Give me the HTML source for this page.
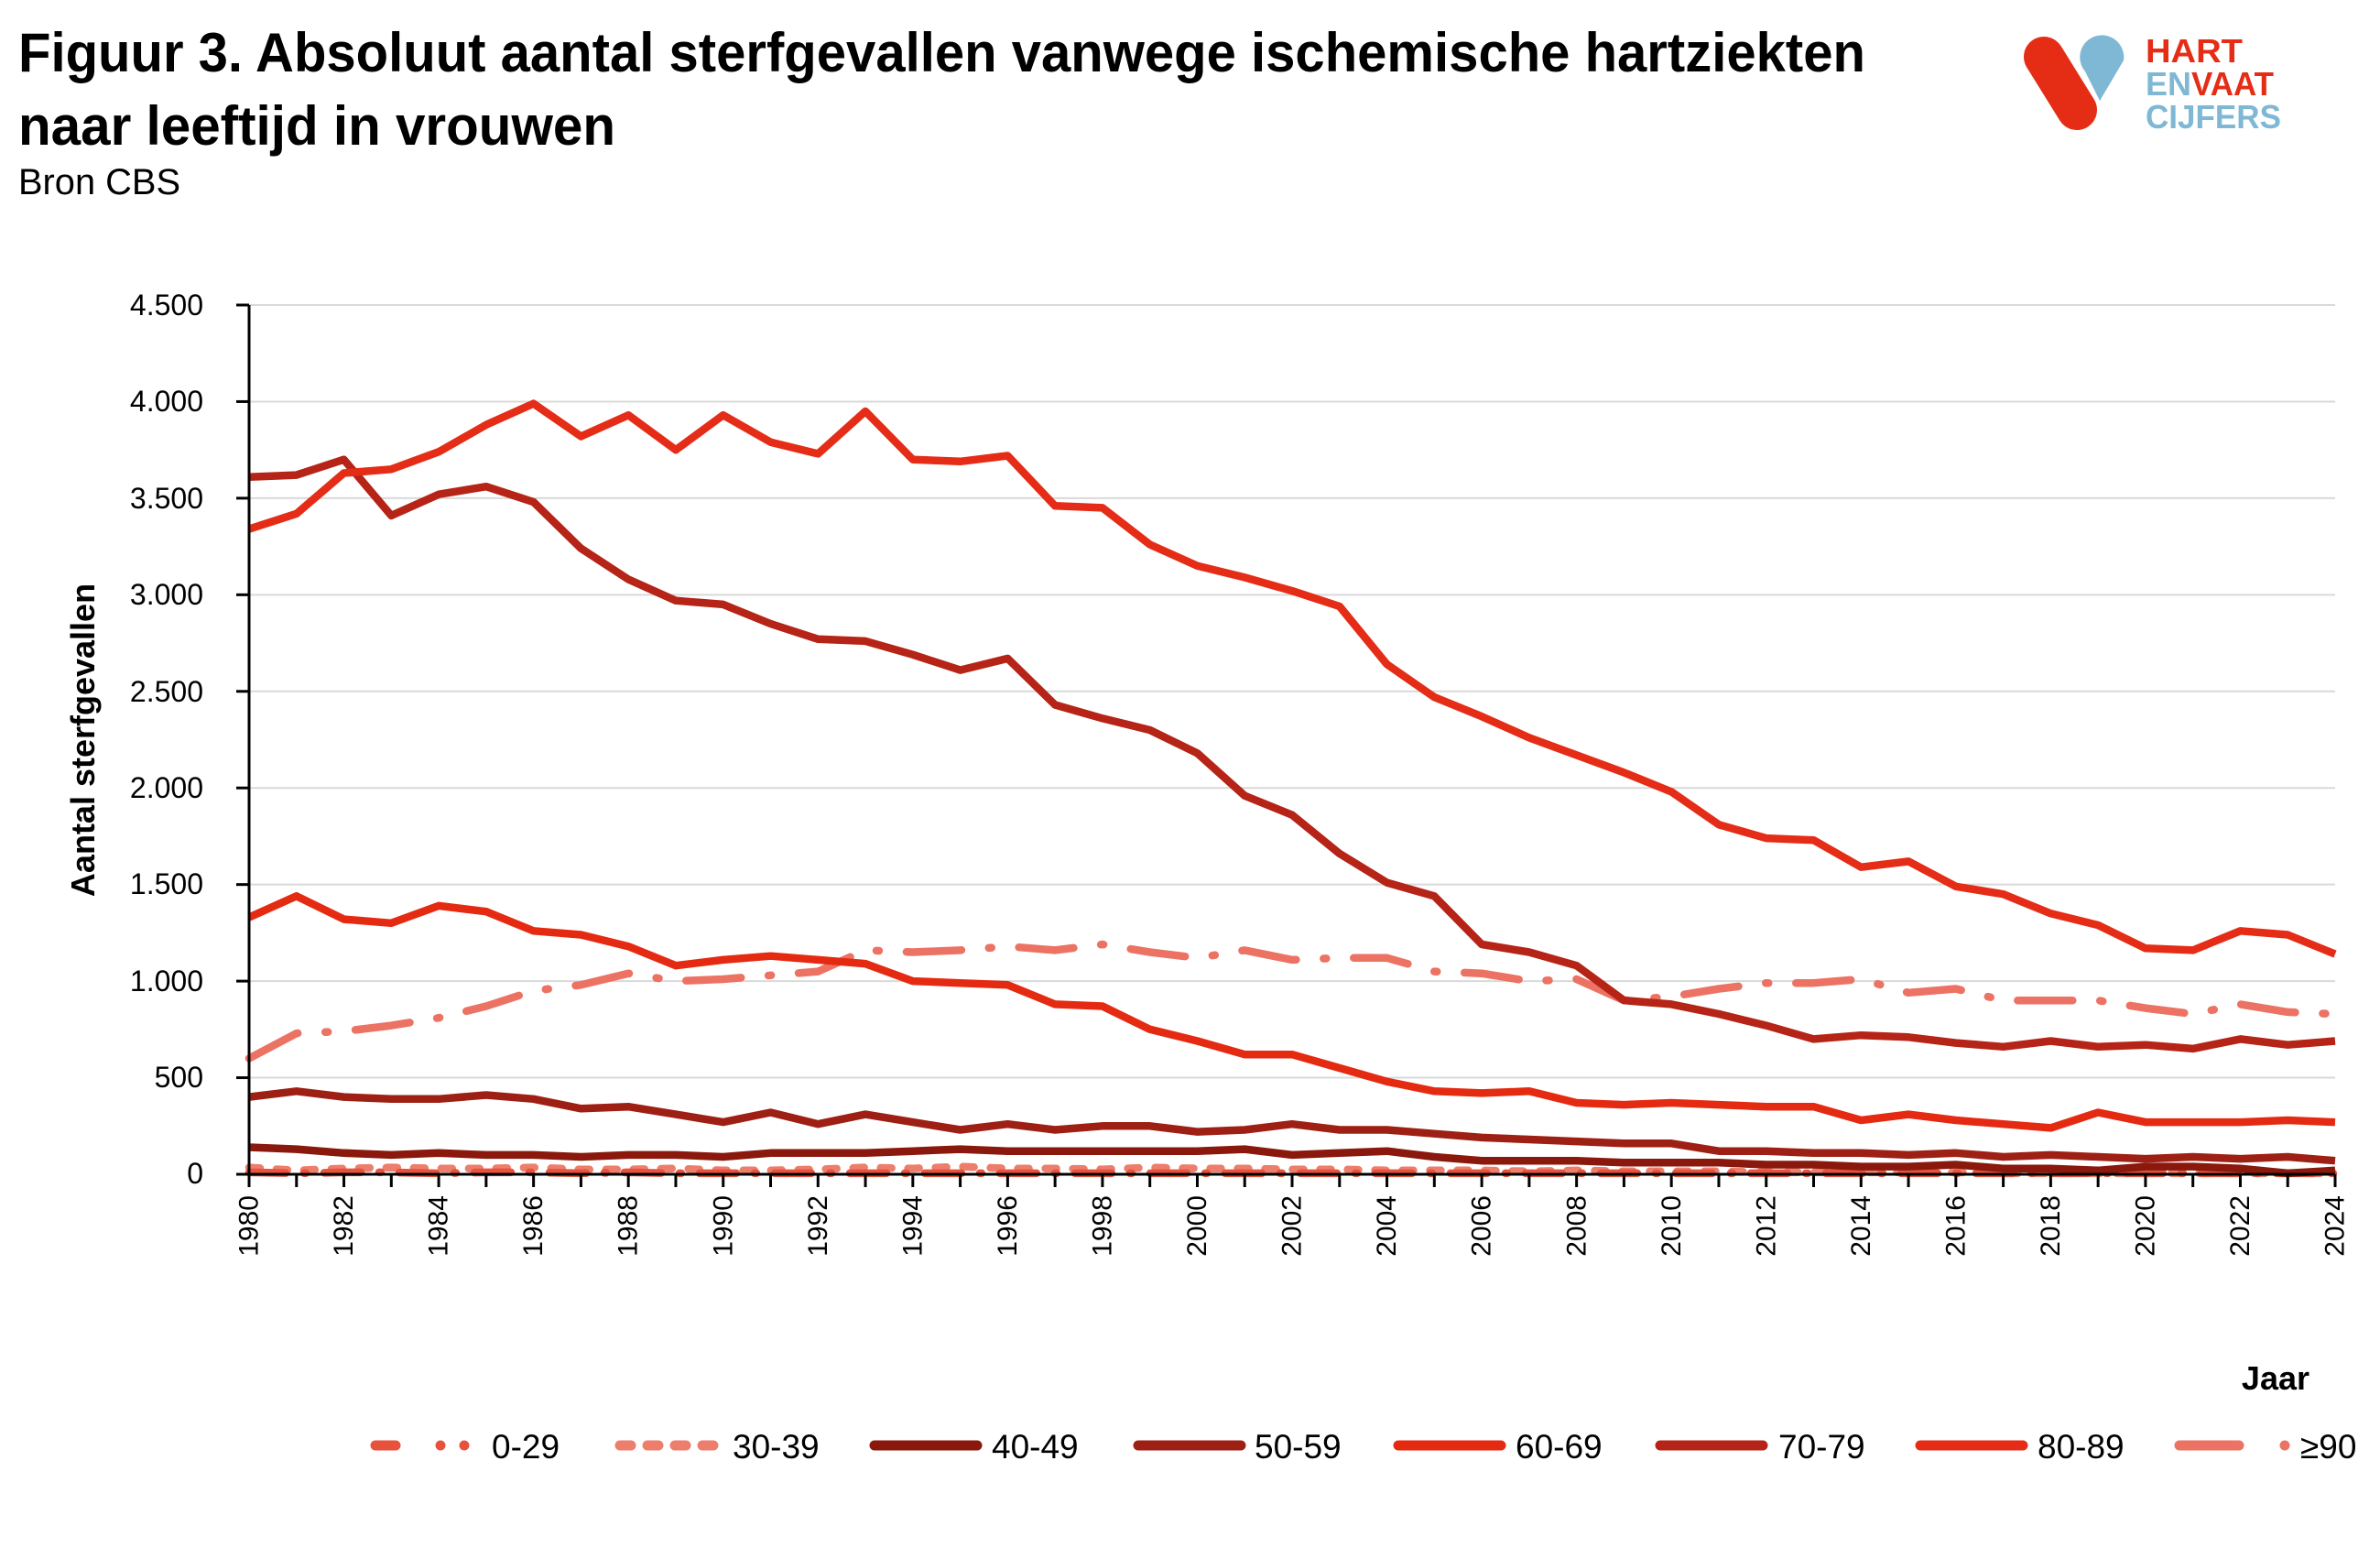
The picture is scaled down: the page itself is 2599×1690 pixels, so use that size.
<!DOCTYPE html>
<html><head><meta charset="utf-8"><style>
html,body{margin:0;padding:0;background:#fff;}
svg{display:block;}
text{font-family:"Liberation Sans",sans-serif;}
</style></head><body>
<svg id="s" width="2599" height="1690" viewBox="0 0 2599 1690" xmlns="http://www.w3.org/2000/svg">
<text x="20" y="78" font-size="60" font-weight="bold" textLength="2017" lengthAdjust="spacingAndGlyphs">Figuur 3. Absoluut aantal sterfgevallen vanwege ischemische hartziekten</text>
<text x="20" y="158" font-size="60" font-weight="bold" textLength="652" lengthAdjust="spacingAndGlyphs">naar leeftijd in vrouwen</text>
<text x="20" y="212" font-size="40" textLength="177" lengthAdjust="spacingAndGlyphs">Bron CBS</text>
<!-- logo -->
<line x1="2232" y1="62" x2="2268" y2="120" stroke="#e52d16" stroke-width="44" stroke-linecap="round"/>
<path d="M2293 110 L2277 78 A24 24 0 1 1 2319 66 Z" fill="#7fb8d4"/>
<text x="2343" y="68" font-size="36" font-weight="bold" fill="#e52d16" textLength="106" lengthAdjust="spacingAndGlyphs">HART</text>
<text x="2343" y="104" font-size="36" font-weight="bold" fill="#7fb8d4" textLength="50" lengthAdjust="spacingAndGlyphs">EN</text>
<text x="2393" y="104" font-size="36" font-weight="bold" fill="#e52d16" textLength="90" lengthAdjust="spacingAndGlyphs">VAAT</text>
<text x="2343" y="140" font-size="36" font-weight="bold" fill="#7fb8d4" textLength="148" lengthAdjust="spacingAndGlyphs">CIJFERS</text>
<g id="grid" stroke="#d9d9d9" stroke-width="2"></g>
<g font-size="32" text-anchor="end">
<text x="222" y="344">4.500</text><text x="222" y="449">4.000</text><text x="222" y="555">3.500</text><text x="222" y="660">3.000</text><text x="222" y="766">2.500</text><text x="222" y="871">2.000</text><text x="222" y="976">1.500</text><text x="222" y="1082">1.000</text><text x="222" y="1187">500</text><text x="222" y="1292">0</text>
</g>
<text transform="translate(103,808) rotate(-90)" font-size="36" font-weight="bold" text-anchor="middle">Aantal sterfgevallen</text>
<g font-size="30" text-anchor="end" dominant-baseline="central">
<text transform="translate(272,1305) rotate(-90)">1980</text>
<text transform="translate(375.5,1305) rotate(-90)">1982</text>
<text transform="translate(479.1,1305) rotate(-90)">1984</text>
<text transform="translate(582.6,1305) rotate(-90)">1986</text>
<text transform="translate(686.2,1305) rotate(-90)">1988</text>
<text transform="translate(789.8,1305) rotate(-90)">1990</text>
<text transform="translate(893.3,1305) rotate(-90)">1992</text>
<text transform="translate(996.9,1305) rotate(-90)">1994</text>
<text transform="translate(1100.4,1305) rotate(-90)">1996</text>
<text transform="translate(1204,1305) rotate(-90)">1998</text>
<text transform="translate(1307.5,1305) rotate(-90)">2000</text>
<text transform="translate(1411.1,1305) rotate(-90)">2002</text>
<text transform="translate(1514.7,1305) rotate(-90)">2004</text>
<text transform="translate(1618.2,1305) rotate(-90)">2006</text>
<text transform="translate(1721.8,1305) rotate(-90)">2008</text>
<text transform="translate(1825.3,1305) rotate(-90)">2010</text>
<text transform="translate(1928.9,1305) rotate(-90)">2012</text>
<text transform="translate(2032.4,1305) rotate(-90)">2014</text>
<text transform="translate(2136,1305) rotate(-90)">2016</text>
<text transform="translate(2239.6,1305) rotate(-90)">2018</text>
<text transform="translate(2343.1,1305) rotate(-90)">2020</text>
<text transform="translate(2446.7,1305) rotate(-90)">2022</text>
<text transform="translate(2550,1305) rotate(-90)">2024</text>
</g>
<g id="series" fill="none" stroke-width="8.5" stroke-linejoin="round"></g>
<g id="axes" stroke="#000" stroke-width="3"></g>
<text x="2522" y="1517" font-size="36" font-weight="bold" text-anchor="end">Jaar</text>
<g stroke-width="11" stroke-linecap="round" fill="none">
<path d="M410 1578h22 M481 1578h0 M507 1578h0" stroke="#e8523c"/>
<path d="M677 1578h103" stroke="#ee7e6c" stroke-dasharray="12 18"/>
<path d="M955 1578h112" stroke="#8a180c"/>
<path d="M1243 1578h112" stroke="#9e2014"/>
<path d="M1527 1578h112" stroke="#e52a12"/>
<path d="M1813 1578h112" stroke="#b52416"/>
<path d="M2097 1578h112" stroke="#e42c16"/>
<path d="M2380 1578h65 M2495 1578h0" stroke="#ec7263"/>
</g>
<g font-size="37">
<text x="537" y="1592">0-29</text><text x="800" y="1592">30-39</text><text x="1083" y="1592">40-49</text><text x="1370" y="1592">50-59</text><text x="1655" y="1592">60-69</text><text x="1942" y="1592">70-79</text><text x="2225" y="1592">80-89</text><text x="2512" y="1592">≥90</text>
</g>
</svg>
<script>
var NS="http://www.w3.org/2000/svg";
function X(i){return 272+i*51.773;}
function Y(v){return 1282-v*(949/4500);}
var g=document.getElementById('grid');
for(var k=1;k<=9;k++){var l=document.createElementNS(NS,'line');l.setAttribute('x1',272);l.setAttribute('x2',2550);l.setAttribute('y1',Y(k*500));l.setAttribute('y2',Y(k*500));g.appendChild(l);}
var a=document.getElementById('axes');
function ln(x1,y1,x2,y2){var l=document.createElementNS(NS,'line');l.setAttribute('x1',x1);l.setAttribute('y1',y1);l.setAttribute('x2',x2);l.setAttribute('y2',y2);a.appendChild(l);}
ln(272,333,272,1282);ln(272,1282,2550,1282);
for(var k=0;k<=9;k++)ln(258,Y(k*500),272,Y(k*500));
for(var i=0;i<=44;i++)ln(X(i),1282,X(i),1296);
var S=[
["#ee7e6c","12 18",[35,20,30,35,30,30,35,25,25,30,20,20,25,35,30,40,30,30,25,35,30,30,25,25,20,20,20,15,20,15,15,15,10,10,10,10,10,5,5,5,5,5,5,5,5]],
["#e8523c","40 20 2 20",[10,5,10,10,5,10,10,5,10,5,5,5,5,5,5,5,5,5,5,5,5,5,5,5,5,5,5,5,5,5,5,5,5,5,5,5,5,5,5,5,5,5,5,5,5]],
["#8a180c",null,[140,130,110,100,110,100,100,90,100,100,90,110,110,110,120,130,120,120,120,120,120,130,100,110,120,90,70,70,70,60,60,60,50,50,40,40,50,30,30,20,40,40,30,5,20]],
["#9e2014",null,[400,430,400,390,390,410,390,340,350,310,270,320,260,310,270,230,260,230,250,250,220,230,260,230,230,210,190,180,170,160,160,120,120,110,110,100,110,90,100,90,80,90,80,90,70]],
["#ec7263","60 30 3 30",[600,730,740,770,810,870,950,980,1040,1000,1010,1030,1050,1160,1150,1160,1180,1160,1190,1150,1120,1160,1110,1120,1120,1050,1040,1000,1010,900,920,960,990,990,1010,940,960,900,900,900,860,830,880,840,830]],
["#e52a12",null,[1330,1440,1320,1300,1390,1360,1260,1240,1180,1080,1110,1130,1110,1090,1000,990,980,880,870,750,690,620,620,550,480,430,420,430,370,360,370,360,350,350,280,310,280,260,240,320,270,270,270,280,270]],
["#b52416",null,[3610,3620,3700,3410,3520,3560,3480,3240,3080,2970,2950,2850,2770,2760,2690,2610,2670,2430,2360,2300,2180,1960,1860,1660,1510,1440,1190,1150,1080,900,880,830,770,700,720,710,680,660,690,660,670,650,700,670,690]],
["#e42c16",null,[3340,3420,3630,3650,3740,3880,3990,3820,3930,3750,3930,3790,3730,3950,3700,3690,3720,3460,3450,3260,3150,3090,3020,2940,2640,2470,2370,2260,2170,2080,1980,1810,1740,1730,1590,1620,1490,1450,1350,1290,1170,1160,1260,1240,1140]]
];
var sg=document.getElementById('series');
S.forEach(function(s){var p=document.createElementNS(NS,'polyline');var pts=s[2].map(function(v,i){return X(i).toFixed(1)+','+Y(v).toFixed(1);}).join(' ');p.setAttribute('points',pts);p.setAttribute('stroke',s[0]);if(s[1]){p.setAttribute('stroke-dasharray',s[1]);p.setAttribute('stroke-linecap','round');}sg.appendChild(p);});
</script>
</body></html>
